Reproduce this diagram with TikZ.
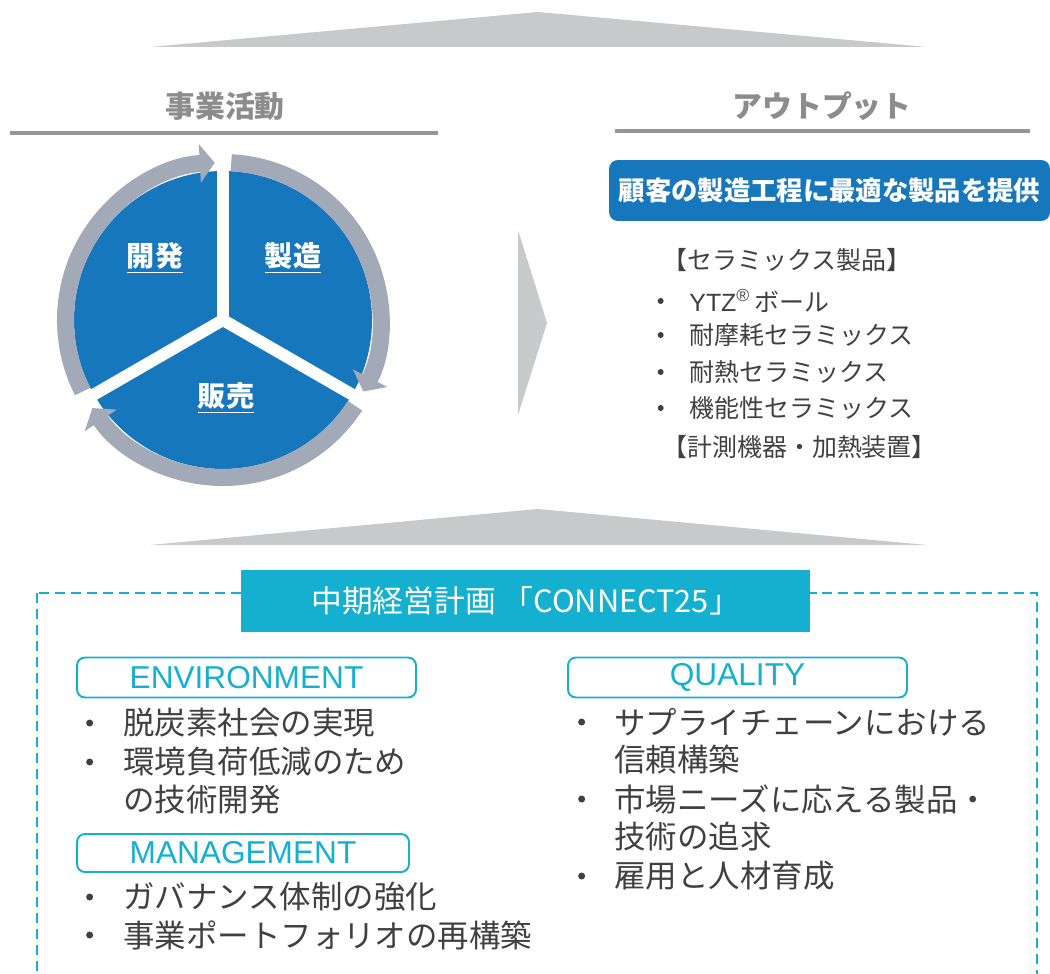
\documentclass[tikz,border=0pt]{standalone}
\usepackage{fontspec}
\setmainfont{Liberation Sans}
\newfontfamily\jp{Noto Sans CJK JP}
\usetikzlibrary{arrows.meta, positioning}

\definecolor{ringgray}{HTML}{A3AAB7}
\definecolor{diskblue}{HTML}{1777BC}
\definecolor{roofgray}{HTML}{C8C9CB}
\definecolor{headgray}{HTML}{8C8C8C}
\definecolor{rulegray}{HTML}{939598}
\definecolor{planblue}{HTML}{15B0D0}
\definecolor{bodygray}{HTML}{404040}

\tikzset{
    roof/.style={fill=roofgray, draw=none},
    heading/.style={font=\jp\bfseries\fontsize{17}{20}\selectfont, text=headgray},
    headrule/.style={draw=rulegray, line width=2.8pt},
    ring/.style={draw=ringgray, line width=9.7pt, -{Triangle[width=21.6pt, length=8.5pt]}},
    spoke/.style={draw=white, line width=6.8pt},
    stage/.style={font=\jp\bfseries\fontsize{16}{19}\selectfont, text=white},
    banner/.style={fill=diskblue, rounded corners=5pt, text=white, font=\jp\bfseries\fontsize{15}{18}\selectfont, minimum width=8.82cm, minimum height=1.22cm, inner sep=0pt},
    outitem/.style={anchor=west, inner sep=0pt, text=bodygray, font=\jp\fontsize{14.2}{17}\selectfont},
    outdot/.style={circle, fill=bodygray, minimum size=0.12cm, inner sep=0pt},
    plan/.style={fill=planblue, text=white, font=\jp\fontsize{17.5}{20}\selectfont, minimum width=11.38cm, minimum height=1.24cm, inner sep=0pt},
    planframe/.style={draw=planblue, line width=1.1pt, dash pattern=on 5.7pt off 3.4pt},
    pillar/.style={draw=planblue, line width=1.1pt, fill=white, rounded corners=4.5pt, text=planblue, font=\fontsize{18}{21}\selectfont, minimum width=6.78cm, minimum height=0.8cm, inner sep=0pt},
    item/.style={anchor=west, inner sep=0pt, text=bodygray, font=\jp\fontsize{17.9}{21}\selectfont},
    dot/.style={circle, fill=bodygray, minimum size=0.14cm, inner sep=0pt}
}

\begin{document}
\begin{tikzpicture}[x=0.02cm, y=0.02cm]
    \useasboundingbox (0,0) rectangle (1050,-973);

    % Roofs
    \fill[roof] (150,-47) -- (538,-12) -- (927,-47) -- cycle;
    \fill[roof] (150,-545) -- (538,-509) -- (927,-545) -- cycle;

    % Headings
    \node[heading] (act) at (225,-106) {事業活動};
    \node[heading] (outh) at (822,-106) {アウトプット};
    \draw[headrule] (10,-133) -- (438,-133);
    \draw[headrule] (615,-131) -- (1030,-131);

    % Business cycle
    \coordinate (c) at (223,-320);
    \fill[diskblue] (c) circle[radius=149];
    \draw[ring] (c) ++(87:157.5) arc[start angle=87, end angle=-27, radius=157.5];
    \draw[ring] (c) ++(-33:157.5) arc[start angle=-33, end angle=-146, radius=157.5];
    \draw[ring] (c) ++(207:157.5) arc[start angle=207, end angle=93, radius=157.5];
    \foreach \a in {90,-30,210} \draw[spoke] (c) -- ++(\a:153);

    \node[stage] (dev) at (155,-258) {\underline{開発}};
    \node[stage] (mfg) at (293,-258) {\underline{製造}};
    \node[stage] (sales) at (226,-398) {\underline{販売}};

    % Chevron
    \fill[roof] (518,-230) -- (547,-323) -- (518,-415) -- cycle;

    % Output
    \node[banner] (offer) at (829.5,-190.5) {顧客の製造工程に最適な製品を提供};
    \node[outitem] (cer) at (662,-260) {【セラミックス製品】};
    \node[outitem] (o1) at (689,-301) {{\rmfamily YTZ\textsuperscript{®}}\,ボール};
    \node[outitem] (o2) at (689,-335) {耐摩耗セラミックス};
    \node[outitem] (o3) at (689,-372) {耐熱セラミックス};
    \node[outitem] (o4) at (689,-408) {機能性セラミックス};
    \node[outitem] (meas) at (662,-447) {【計測機器・加熱装置】};
    \foreach \n in {o1,o2,o3,o4} \node[outdot, left=0.5cm of \n] (\n-dot) {};

    % Mid-term plan
    \draw[planframe] (37,-593) rectangle (1037,-990);
    \node[plan] (mtp) at (525.5,-601) {中期経営計画 「CONNECT25」};

    \node[pillar] (env) at (246.5,-677.5) {ENVIRONMENT};
    \node[pillar] (qual) at (737.5,-677.5) {QUALITY};
    \node[pillar, minimum width=6.64cm, minimum height=0.76cm] (mgmt) at (243,-853) {MANAGEMENT};

    \node[item] (e1) at (123,-723) {脱炭素社会の実現};
    \node[item] (e2) at (123,-762) {環境負荷低減のため};
    \node[item] (e2b) at (123,-800) {の技術開発};
    \node[item] (m1) at (123,-897) {ガバナンス体制の強化};
    \node[item] (m2) at (123,-935) {事業ポートフォリオの再構築};

    \node[item] (q1) at (614,-722) {サプライチェーンにおける};
    \node[item] (q1b) at (614,-760) {信頼構築};
    \node[item] (q2) at (614,-799) {市場ニーズに応える製品・};
    \node[item] (q2b) at (614,-837) {技術の追求};
    \node[item] (q3) at (614,-876) {雇用と人材育成};

    \foreach \n in {e1,e2,m1,m2} \node[dot, left=0.59cm of \n] (\n-dot) {};
    \foreach \n in {q1,q2,q3} \node[dot, left=0.57cm of \n] (\n-dot) {};
\end{tikzpicture}
\end{document}
